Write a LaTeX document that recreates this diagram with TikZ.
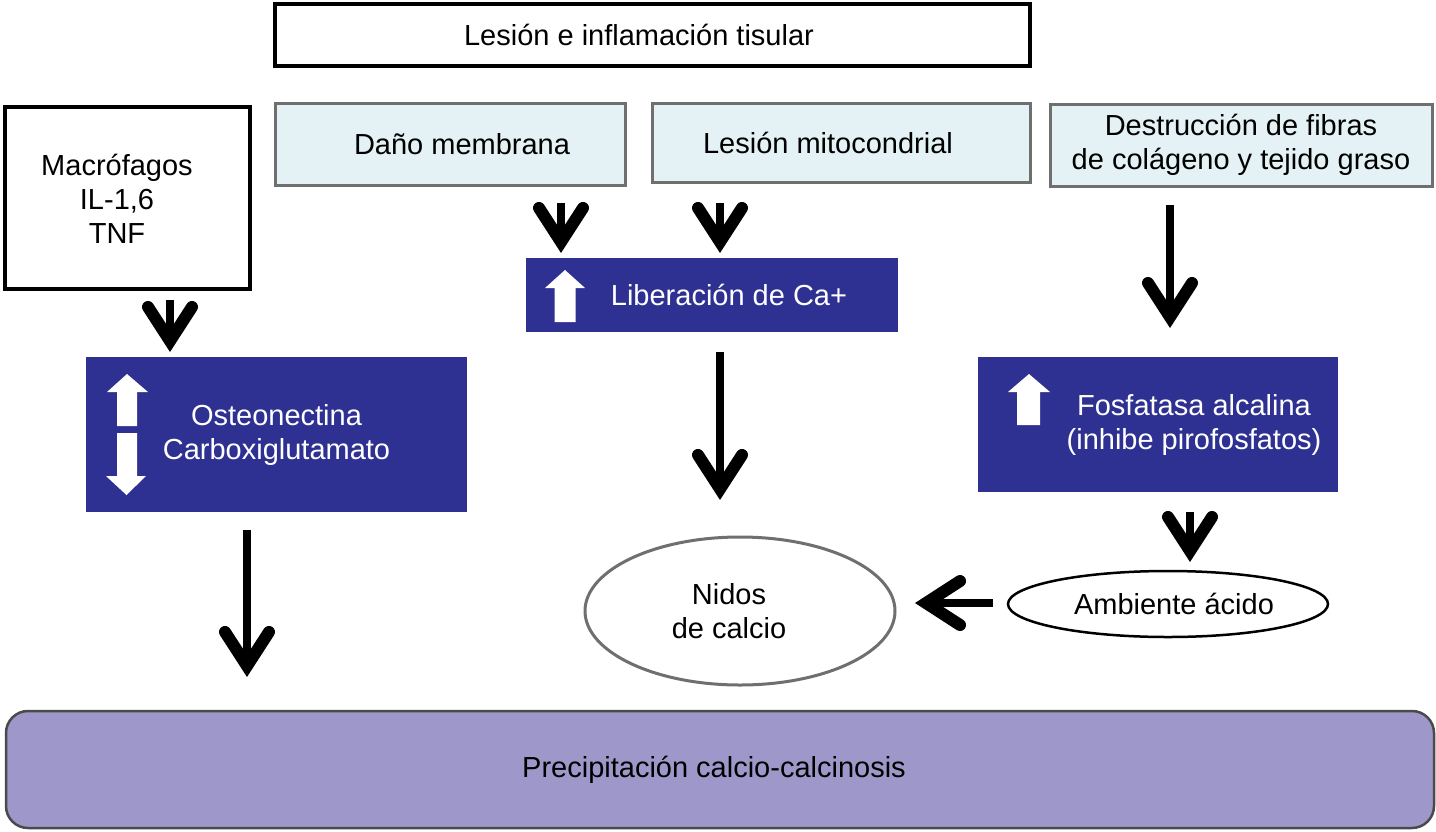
\documentclass[tikz,border=0pt]{standalone}
\usepackage{fontspec}
\setmainfont{Liberation Sans}
\usetikzlibrary{arrows.meta,shapes.geometric,calc}
\definecolor{dblue}{HTML}{2E3192}
\definecolor{lblue}{HTML}{E4F2F5}
\definecolor{gborder}{HTML}{6F6F6F}
\definecolor{purp}{HTML}{9E98CA}
\definecolor{pborder}{HTML}{4A4A4A}
\tikzset{
  every node/.style={outer sep=0pt, inner sep=0pt, font=\fontsize{29}{34}\selectfont, align=center},
  whitebox/.style={rectangle, draw=black, line width=3.5pt, fill=white},
  paleblue/.style={rectangle, draw=gborder, line width=3pt, fill=lblue},
  darkbox/.style={rectangle, fill=dblue, text=white},
  bigarrow/.style={line width=8pt, black,
    -{Straight Barb[length=34pt, width=44pt, line width=12pt, line cap=round, line join=miter]}},
  icon/.style={fill=white}
}
\begin{document}
\begin{tikzpicture}[x=1pt,y=-1pt]
\useasboundingbox (0,0) rectangle (1436,831);
\fill[white] (0,0) rectangle (1436,831);

\node[whitebox, minimum width=755pt, minimum height=62pt] (top) at (652.5,35)
  {Lesión e inflamación tisular\hspace*{27pt}};
\node[whitebox, minimum width=245pt, minimum height=182pt, align=none] (mac) at (127.5,198)
  {\raisebox{-5pt}[\height][\depth]{\begin{tabular}{@{}c@{}}Macrófagos\\IL-1,6\\TNF\end{tabular}}\hspace*{21pt}};
\node[paleblue, minimum width=350pt, minimum height=82pt] (dano) at (450,144)
  {\hspace*{24pt}Daño membrana};
\node[paleblue, minimum width=378pt, minimum height=79pt] (lesion) at (841,142.5)
  {Lesión mitocondrial\hspace*{26pt}};
\node[paleblue, minimum width=382pt, minimum height=82pt] (destr) at (1241,145)
  {Destrucción de fibras\\de colágeno y tejido graso};

\node[darkbox, minimum width=381pt, minimum height=155pt] (osteo) at (276.5,434.5)
  {Osteonectina\\Carboxiglutamato};
\node[darkbox, minimum width=372pt, minimum height=74pt] (liber) at (712,295)
  {\hspace*{34pt}Liberación de Ca+};
\node[darkbox, minimum width=360pt, minimum height=135pt] (fosf) at (1158,424.5)
  {\hspace*{72pt}Fosfatasa alcalina\\\hspace*{72pt}(inhibe pirofosfatos)};

\node[ellipse, draw=gborder, line width=3pt, minimum width=310pt, minimum height=148pt] (nidos) at (740,611)
  {Nidos\hspace*{22pt}\\de calcio\hspace*{22pt}};
\node[ellipse, draw=black, line width=2.5pt, minimum width=320pt, minimum height=66pt] (amb) at (1168,604)
  {\hspace*{12pt}Ambiente ácido};

\node[rectangle, rounded corners=22pt, draw=pborder, line width=2.5pt, fill=purp,
  minimum width=1428pt, minimum height=117pt] (bottom) at (720,769.5)
  {Precipitación calcio-calcinosis\hspace*{12pt}};

% white block arrow icons
\fill[icon] (107,392) -- (127,374) -- (148,392) -- (137,392) -- (137,426) -- (117,426) -- (117,392) -- cycle;
\fill[icon] (117,433) -- (137,433) -- (137,476) -- (146,476) -- (126.5,495) -- (106,476) -- (117,476) -- cycle;
\fill[icon] (545,288) -- (565,270) -- (585,288) -- (575.5,288) -- (575.5,322) -- (554.5,322) -- (554.5,288) -- cycle;
\fill[icon] (1008,392) -- (1029,374) -- (1050,392) -- (1040,392) -- (1040,425) -- (1017,425) -- (1017,392) -- cycle;

% connectors
\draw[bigarrow] ($(mac.south)+(42.5,11)$) -- ($(osteo.north)+(-106.5,-5)$);
\draw[bigarrow] ($(dano.south)+(111,18)$) -- ($(liber.north)+(-151,-5)$);
\draw[bigarrow] ($(lesion.south)+(-121,21)$) -- ($(liber.north)+(8,-5)$);
\draw[bigarrow] ($(destr.south)+(-71,19)$) -- ($(fosf.north)+(12,-29)$);
\draw[bigarrow] ($(osteo.south)+(-29.5,18)$) -- ($(bottom.north)+(-473,-34)$);
\draw[bigarrow] ($(liber.south)+(8,20)$) -- ($(nidos.north)+(-20,-37)$);
\draw[bigarrow] ($(fosf.south)+(32,20)$) -- ($(amb.north)+(22,-9)$);
\draw[bigarrow] ($(amb.west)+(-15,-1)$) -- ($(nidos.east)+(20,-8)$);
\end{tikzpicture}
\end{document}
